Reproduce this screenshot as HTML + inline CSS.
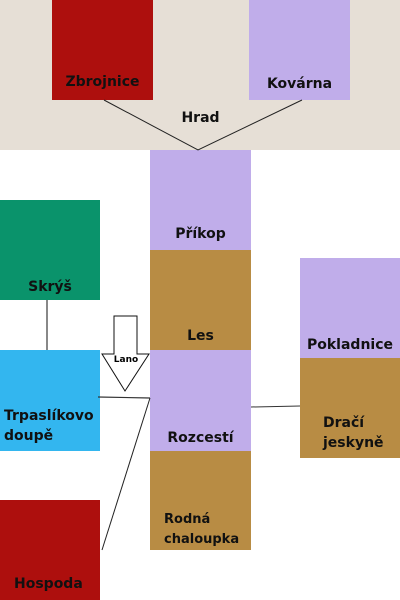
<!DOCTYPE html>
<html><head><style>
body{margin:0;width:400px;height:600px;position:relative;background:#fff;font-family:"DejaVu Sans","Liberation Sans",sans-serif;font-weight:bold;font-size:14px;color:#111;overflow:hidden}
.b{position:absolute}
.t{position:absolute;white-space:nowrap;line-height:20px}
</style></head><body>
<div class="b" style="left:0;top:0;width:400px;height:150px;background:#e6dfd6"></div>
<div class="b" style="left:52px;top:0;width:101px;height:100px;background:#ad0f0d"></div>
<div class="b" style="left:249px;top:0;width:101px;height:100px;background:#c0adea"></div>
<div class="b" style="left:150px;top:150px;width:101px;height:100px;background:#c0adea"></div>
<div class="b" style="left:150px;top:250px;width:101px;height:100px;background:#b88c44"></div>
<div class="b" style="left:150px;top:350px;width:101px;height:101px;background:#c0adea"></div>
<div class="b" style="left:150px;top:451px;width:101px;height:99px;background:#b88c44"></div>
<div class="b" style="left:0;top:200px;width:100px;height:100px;background:#0a936b"></div>
<div class="b" style="left:0;top:350px;width:100px;height:101px;background:#33b6ef"></div>
<div class="b" style="left:0;top:500px;width:100px;height:100px;background:#ad0f0d"></div>
<div class="b" style="left:300px;top:258px;width:100px;height:100px;background:#c0adea"></div>
<div class="b" style="left:300px;top:358px;width:100px;height:100px;background:#b88c44"></div>
<svg class="b" style="left:0;top:0" width="400" height="600">
<polyline points="104,100 198,150 302,100" fill="none" stroke="#222" stroke-width="1"/>
<line x1="47" y1="300" x2="47" y2="350" stroke="#111"/>
<line x1="98" y1="397" x2="150" y2="398" stroke="#333" stroke-width="1.2"/>
<line x1="150" y1="398" x2="102" y2="550" stroke="#222"/>
<line x1="251" y1="407" x2="300" y2="406" stroke="#333"/>
<polygon points="114,316 137,316 137,354 149,354 125,391 102,354 114,354" fill="#fff" stroke="#111"/>
<text x="126" y="362" font-size="9" text-anchor="middle" font-family="DejaVu Sans,sans-serif" font-weight="bold">Lano</text>
</svg>
<div class="t" style="left:52px;width:101px;text-align:center;top:72px">Zbrojnice</div>
<div class="t" style="left:249px;width:101px;text-align:center;top:74px">Kovárna</div>
<div class="t" style="left:150px;width:101px;text-align:center;top:108px">Hrad</div>
<div class="t" style="left:150px;width:101px;text-align:center;top:224px">Příkop</div>
<div class="t" style="left:150px;width:101px;text-align:center;top:326px">Les</div>
<div class="t" style="left:150px;width:101px;text-align:center;top:428px">Rozcestí</div>
<div class="t" style="left:164px;top:510px;font-size:13px">Rodná<br>chaloupka</div>
<div class="t" style="left:0;width:100px;text-align:center;top:277px">Skrýš</div>
<div class="t" style="left:4px;top:406px">Trpaslíkovo<br>doupě</div>
<div class="t" style="left:14px;top:574px">Hospoda</div>
<div class="t" style="left:300px;width:100px;text-align:center;top:335px">Pokladnice</div>
<div class="t" style="left:323px;top:413px">Dračí<br>jeskyně</div>
</body></html>
